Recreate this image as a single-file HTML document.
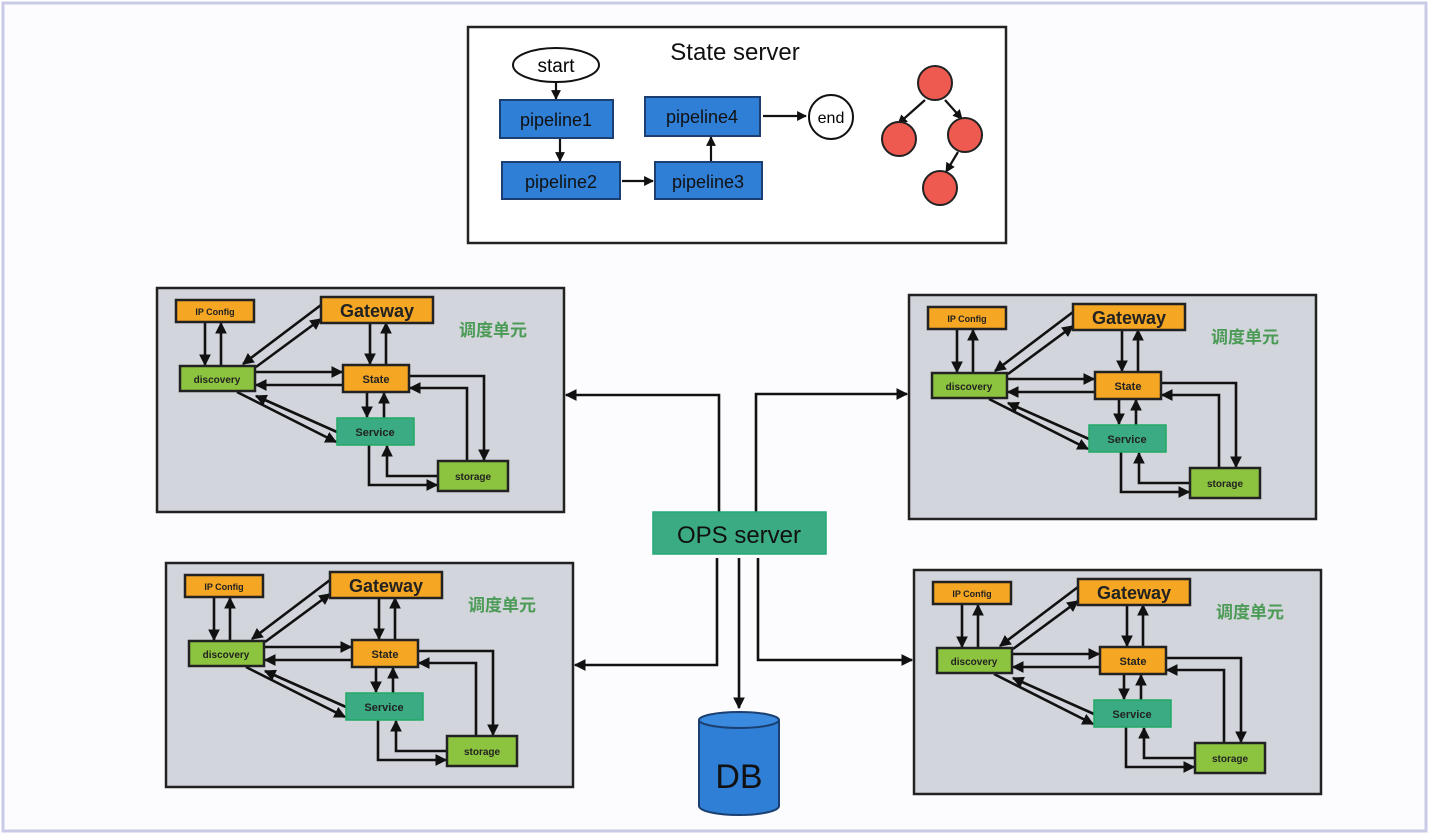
<!DOCTYPE html>
<html><head><meta charset="utf-8"><style>
html,body{margin:0;padding:0;background:#fff;}
svg{display:block;}
text{font-family:"Liberation Sans","Noto Sans CJK SC",sans-serif;}
</style></head><body>
<svg width="1429" height="834" viewBox="0 0 1429 834" xmlns="http://www.w3.org/2000/svg">
<defs>
<marker id="a" viewBox="0 0 10 10" refX="9" refY="5" markerWidth="4.5" markerHeight="4.5" orient="auto-start-reverse"><path d="M0,0L10,5L0,10z" fill="#111"/></marker>
<g id="unit">
<rect x="0" y="0" width="407" height="224" fill="#d2d5dc" stroke="#222" stroke-width="2.5"/>
<text x="302" y="48" font-size="17" fill="#4b9a55" font-weight="bold">调度单元</text>
<g stroke="#111" stroke-width="2.6" fill="none" marker-end="url(#a)">
<path d="M48 34V77"/><path d="M64 78V35"/>
<path d="M164 17L86 76"/><path d="M99 79L164 31"/>
<path d="M213 35V76"/><path d="M229 76V35"/>
<path d="M98 84H185"/><path d="M186 97H99"/>
<path d="M80 104L179 154"/><path d="M180 144L99 108"/>
<path d="M210 104V129"/><path d="M227 130V105"/>
<path d="M252 88H327V172"/><path d="M310 173V100H253"/>
<path d="M212 157V197H280"/><path d="M281 188H230V158"/>
</g>
<rect x="19" y="12" width="78" height="22" fill="#f5a623" stroke="#222" stroke-width="2.5"/>
<text x="58" y="27" font-size="9" text-anchor="middle" fill="#222" font-weight="bold">IP Config</text>
<rect x="164" y="9" width="112" height="26" fill="#f5a623" stroke="#222" stroke-width="2.5"/>
<text x="220" y="29" font-size="18" text-anchor="middle" fill="#222" font-weight="bold">Gateway</text>
<rect x="23" y="78" width="75" height="25" fill="#8dc43f" stroke="#222" stroke-width="2.5"/>
<text x="60" y="95" font-size="10" text-anchor="middle" fill="#222" font-weight="bold">discovery</text>
<rect x="186" y="77" width="66" height="27" fill="#f5a623" stroke="#222" stroke-width="2.5"/>
<text x="219" y="95" font-size="11" text-anchor="middle" fill="#222" font-weight="bold">State</text>
<rect x="180" y="130" width="77" height="27" fill="#3bab84" stroke="#2a6" stroke-width="1.5"/>
<text x="218" y="148" font-size="11" text-anchor="middle" fill="#222" font-weight="bold">Service</text>
<rect x="281" y="173" width="70" height="30" fill="#8dc43f" stroke="#222" stroke-width="2.5"/>
<text x="316" y="192" font-size="10" text-anchor="middle" fill="#222" font-weight="bold">storage</text>
</g>
</defs>
<rect x="3" y="3" width="1423" height="828" fill="#fcfcfe" stroke="#c9cbe6" stroke-width="3"/>
<rect x="468" y="27" width="538" height="216" fill="#fff" stroke="#222" stroke-width="2.5"/>
<text x="735" y="60" font-size="24" text-anchor="middle" fill="#111">State server</text>
<g stroke="#111" stroke-width="2.2" fill="none" marker-end="url(#a)">
<path d="M556 82V99"/><path d="M560 138V161"/><path d="M622 181H653"/>
<path d="M711 161V137"/><path d="M763 116H806"/>
<path d="M925 100L898 124"/><path d="M945 100L962 119"/><path d="M958 152L946 172"/>
</g>
<ellipse cx="556" cy="65" rx="43" ry="17" fill="#fff" stroke="#111" stroke-width="2"/>
<text x="556" y="72" font-size="19" text-anchor="middle">start</text>
<rect x="500" y="100" width="113" height="38" fill="#2f7fd6" stroke="#1a3f70" stroke-width="2"/>
<text x="556" y="126" font-size="18" text-anchor="middle" fill="#111">pipeline1</text>
<rect x="502" y="162" width="118" height="37" fill="#2f7fd6" stroke="#1a3f70" stroke-width="2"/>
<text x="561" y="188" font-size="18" text-anchor="middle" fill="#111">pipeline2</text>
<rect x="655" y="162" width="107" height="37" fill="#2f7fd6" stroke="#1a3f70" stroke-width="2"/>
<text x="708" y="188" font-size="18" text-anchor="middle" fill="#111">pipeline3</text>
<rect x="645" y="97" width="115" height="39" fill="#2f7fd6" stroke="#1a3f70" stroke-width="2"/>
<text x="702" y="123" font-size="18" text-anchor="middle" fill="#111">pipeline4</text>
<circle cx="831" cy="117" r="22" fill="#fff" stroke="#111" stroke-width="2"/>
<text x="831" y="123" font-size="16" text-anchor="middle">end</text>
<g fill="#ef5a50" stroke="#222" stroke-width="2">
<circle cx="935" cy="83" r="17"/><circle cx="899" cy="139" r="17"/><circle cx="965" cy="135" r="17"/><circle cx="940" cy="188" r="17"/>
</g>
<use href="#unit" transform="translate(157,288)"/>
<use href="#unit" transform="translate(909,295)"/>
<use href="#unit" transform="translate(166,563)"/>
<use href="#unit" transform="translate(914,570)"/>
<g stroke="#111" stroke-width="2.6" fill="none" marker-end="url(#a)">
<path d="M719 512V395H566"/>
<path d="M756 512V394H907"/>
<path d="M717 558V665H575"/>
<path d="M758 558V660H912"/>
<path d="M739 558V708"/>
</g>
<rect x="653" y="512" width="173" height="42" fill="#3bab84" stroke="#2a7" stroke-width="1.5"/>
<text x="739" y="543" font-size="24" text-anchor="middle" fill="#111">OPS server</text>
<path d="M699 720V806A40 9 0 0 0 779 806V720" fill="#2f7fd6" stroke="#1a3f70" stroke-width="2"/>
<ellipse cx="739" cy="720" rx="40" ry="8" fill="#3a8ae0" stroke="#1a3f70" stroke-width="2"/>
<text x="739" y="788" font-size="34" text-anchor="middle" fill="#111">DB</text>
</svg>
</body></html>
